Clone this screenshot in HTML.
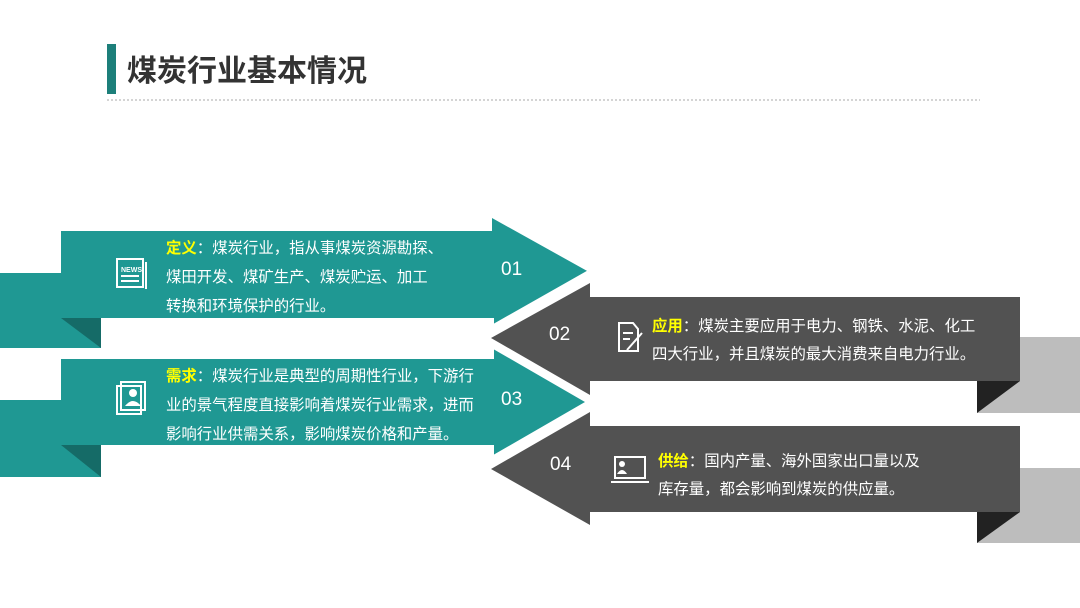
<!DOCTYPE html>
<html><head><meta charset="utf-8"><style>
html,body{margin:0;padding:0;background:#fff;}
svg{display:block;}
text{font-family:"Liberation Sans","Noto Sans CJK SC",sans-serif;}
</style></head><body>
<svg width="1080" height="608" viewBox="0 0 1080 608" xmlns="http://www.w3.org/2000/svg">
<rect width="1080" height="608" fill="#fff"/>
<rect x="107" y="44" width="9" height="50" fill="#1d7f7a"/>
<text x="127" y="81" font-size="30" font-weight="bold" fill="#333">煤炭行业基本情况</text>
<line x1="107" y1="100" x2="980" y2="100" stroke="#aaa" stroke-width="1" stroke-dasharray="2,2"/>

<!-- right back rects -->
<rect x="977" y="337" width="103" height="76" fill="#bdbdbd"/>
<polygon points="977,381 1020,381 977,413" fill="#222"/>
<rect x="977" y="468" width="103" height="75" fill="#bdbdbd"/>
<polygon points="977,512 1020,512 977,543" fill="#222"/>

<!-- gray arrows -->
<polygon points="590,283 590,297 1020,297 1020,381 590,381 590,395 491,338" fill="#525252"/>
<polygon points="590,412 590,426 1020,426 1020,512 590,512 590,525 491,469" fill="#525252"/>

<!-- left teal back rects -->
<rect x="0" y="273" width="101" height="75" fill="#1f9893"/>
<polygon points="61,318 101,318 101,348" fill="#156b67"/>
<rect x="0" y="400" width="101" height="77" fill="#1f9893"/>
<polygon points="61,445 101,445 101,477" fill="#156b67"/>

<!-- teal arrows -->
<polygon points="61,231 492,231 492,218 589,272 492,327 492,318 61,318" fill="#1f9893"/>
<polyline points="589,272 492,327 492,318" fill="none" stroke="#fff" stroke-width="4"/>
<polygon points="61,359 492,359 492,346 589,402 492,458 492,445 61,445" fill="#1f9893"/>
<polyline points="492,359 492,346 589,402 492,458 492,445" fill="none" stroke="#fff" stroke-width="4"/>

<!-- numbers -->
<g font-size="19" fill="#fff">
<text x="501" y="275">01</text>
<text x="549" y="340">02</text>
<text x="501" y="405">03</text>
<text x="550" y="470">04</text>
</g>

<!-- icons -->
<g fill="none" stroke="#fff" stroke-width="2">
<rect x="117" y="259" width="26" height="28"/>
<line x1="146" y1="262" x2="146" y2="289"/>
<line x1="121" y1="276" x2="139" y2="276"/><line x1="121" y1="281" x2="139" y2="281"/>
<rect x="117" y="386" width="24" height="28"/>
<rect x="121" y="382" width="24" height="28"/>
<path d="M619 323 h14 l5 6 v22 h-19 z"/>
<line x1="623" y1="333" x2="633" y2="333"/><line x1="623" y1="339" x2="630" y2="339"/>
<line x1="627" y1="350" x2="642" y2="333"/>
<rect x="615" y="457" width="30" height="21"/>
<line x1="611" y1="482" x2="649" y2="482"/>
</g>
<text x="121" y="272" font-size="7" fill="#fff" font-weight="bold">NEWS</text>
<circle cx="133" cy="393" r="4" fill="#fff"/>
<path d="M125 406 q8 -10 16 0 z" fill="#fff"/>
<circle cx="622" cy="464" r="3" fill="#fff"/>
<path d="M617 474 q5 -8 10 0 z" fill="#fff"/>

<!-- text -->
<g font-size="15.4" fill="#fff">
<text x="166" y="253"><tspan fill="#ffff00" font-weight="bold">定义</tspan>：煤炭行业，指从事煤炭资源勘探、</text>
<text x="166" y="282">煤田开发、煤矿生产、煤炭贮运、加工</text>
<text x="166" y="311">转换和环境保护的行业。</text>
<text x="166" y="381"><tspan fill="#ffff00" font-weight="bold">需求</tspan>：煤炭行业是典型的周期性行业，下游行</text>
<text x="166" y="410">业的景气程度直接影响着煤炭行业需求，进而</text>
<text x="166" y="439">影响行业供需关系，影响煤炭价格和产量。</text>
<text x="652" y="331"><tspan fill="#ffff00" font-weight="bold">应用</tspan>：煤炭主要应用于电力、钢铁、水泥、化工</text>
<text x="652" y="359">四大行业，并且煤炭的最大消费来自电力行业。</text>
<text x="658" y="466"><tspan fill="#ffff00" font-weight="bold">供给</tspan>：国内产量、海外国家出口量以及</text>
<text x="658" y="494">库存量，都会影响到煤炭的供应量。</text>
</g>
</svg>
</body></html>
